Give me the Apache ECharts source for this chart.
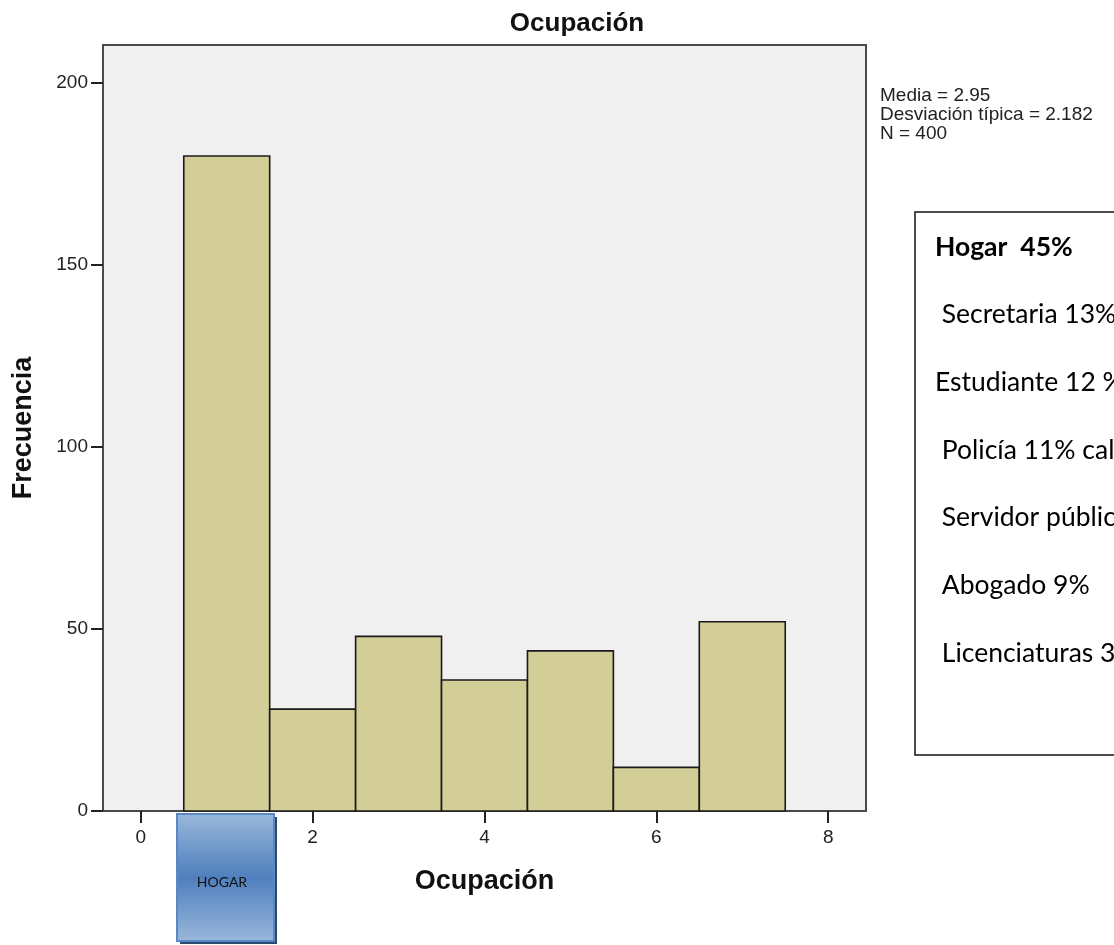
<!DOCTYPE html>
<html>
<head>
<meta charset="utf-8">
<script src="https://cdn.jsdelivr.net/npm/echarts@6/dist/echarts.min.js"></script>
<style>
html,body{margin:0;padding:0;background:#fff;}
#chart{width:1114px;height:945px;}
</style>
</head>
<body>
<div id="chart"></div>
<script>
// Data
const binCenters = [1, 2, 3, 4, 5, 6, 7];
const frequencies = [180, 28, 48, 36, 44, 12, 52];
const xTickValues = [0, 2, 4, 6, 8];
const yTickValues = [0, 50, 100, 150, 200];
const statsLines = ['Media = 2.95', 'Desviación típica = 2.182', 'N = 400'];
const noteLines = ['Hogar  45%', ' Secretaria 13%', 'Estudiante 12 %', ' Policía 11% cal', ' Servidor público 7%', ' Abogado 9%', ' Licenciaturas 3%'];
const chartTitle = 'Ocupación';
const xName = 'Ocupación';
const yName = 'Frecuencia';
const boxLabel = 'HOGAR';

const chart = echarts.init(document.getElementById('chart'), null, {renderer: 'canvas'});

const barData = binCenters.map((c, i) => [c, frequencies[i]]);
const AR = '"Liberation Sans", Arial, sans-serif';

const noteGraphics = noteLines.map((t, i) => ({
  type: 'text',
  x: 935,
  y: 247 + i * 67.7,
  style: {
    text: t,
    font: (i === 0 ? 'bold ' : '') + '26.5px Lato, "Open Sans", sans-serif',
    fill: '#000',
    verticalAlign: 'middle'
  },
  z: 20
}));

const option = {
  backgroundColor: '#ffffff',
  animation: false,
  title: {
    text: chartTitle,
    left: 572,
    top: 6,
    textAlign: 'center',
    textStyle: {fontFamily: AR, fontSize: 26, fontWeight: 'bold', color: '#111'}
  },
  grid: {
    left: 103, right: 248, top: 45, bottom: 134,
    show: true,
    backgroundColor: '#f0f0f0',
    borderColor: '#4a4a4a',
    borderWidth: 2,
    containLabel: false
  },
  xAxis: {
    type: 'value',
    min: -0.44,
    max: 8.44,
    name: xName,
    nameLocation: 'middle',
    nameGap: 57,
    nameTextStyle: {fontFamily: AR, fontSize: 27, fontWeight: 'bold', color: '#111'},
    axisLine: {show: true, onZero: false, lineStyle: {color: '#4a4a4a', width: 2}},
    axisTick: {show: true, inside: false, length: 12, customValues: xTickValues, lineStyle: {color: '#222', width: 2}},
    axisLabel: {show: true, customValues: xTickValues, margin: 17, fontFamily: AR, fontSize: 19, color: '#222'},
    splitLine: {show: false}
  },
  yAxis: {
    type: 'value',
    min: 0,
    max: 210.5,
    name: yName,
    nameLocation: 'middle',
    nameGap: 66,
    nameRotate: 90,
    nameTextStyle: {fontFamily: AR, fontSize: 27, fontWeight: 'bold', color: '#111'},
    axisLine: {show: true, onZero: false, lineStyle: {color: '#4a4a4a', width: 2}},
    axisTick: {show: true, inside: false, length: 12, customValues: yTickValues, lineStyle: {color: '#222', width: 2}},
    axisLabel: {show: true, customValues: yTickValues, margin: 15, fontFamily: AR, fontSize: 19, color: '#222'},
    splitLine: {show: false}
  },
  series: [{
    type: 'custom',
    data: barData,
    encode: {x: 0, y: 1},
    renderItem: function (params, api) {
      const c = api.value(0), v = api.value(1);
      const p0 = api.coord([c - 0.5, v]);
      const p1 = api.coord([c + 0.5, 0]);
      return {
        type: 'rect',
        shape: {x: p0[0], y: p0[1], width: p1[0] - p0[0], height: p1[1] - p0[1]},
        style: {fill: '#d3ce97', stroke: '#1a1a1a', lineWidth: 1.6}
      };
    },
    z: 5
  }],
  graphic: [
    {
      type: 'text',
      x: 880,
      y: 86,
      style: {
        text: statsLines.join('\n'),
        font: '19px "Liberation Sans", Arial, sans-serif',
        lineHeight: 19,
        fill: '#222'
      }
    },
    {
      type: 'rect',
      shape: {x: 915, y: 212, width: 300, height: 543},
      style: {fill: '#ffffff', stroke: '#111', lineWidth: 1.5},
      z: 10
    }
  ].concat(noteGraphics).concat([
    {
      type: 'rect',
      shape: {x: 180, y: 817, width: 97, height: 127},
      style: {fill: '#2b4a70'},
      z: 30
    },
    {
      type: 'rect',
      shape: {x: 177, y: 814, width: 97, height: 127},
      style: {
        fill: new echarts.graphic.LinearGradient(0, 0, 0, 1, [
          {offset: 0, color: '#9ab8dc'},
          {offset: 0.5, color: '#4f7fbd'},
          {offset: 1, color: '#9ab8dc'}
        ]),
        stroke: '#5a88c2',
        lineWidth: 2
      },
      z: 31
    },
    {
      type: 'text',
      x: 222,
      y: 882,
      style: {
        text: boxLabel,
        font: '14px Lato, "Open Sans", sans-serif',
        fill: '#111',
        align: 'center',
        verticalAlign: 'middle'
      },
      z: 32
    }
  ])
};

chart.setOption(option);
</script>
</body>
</html>
